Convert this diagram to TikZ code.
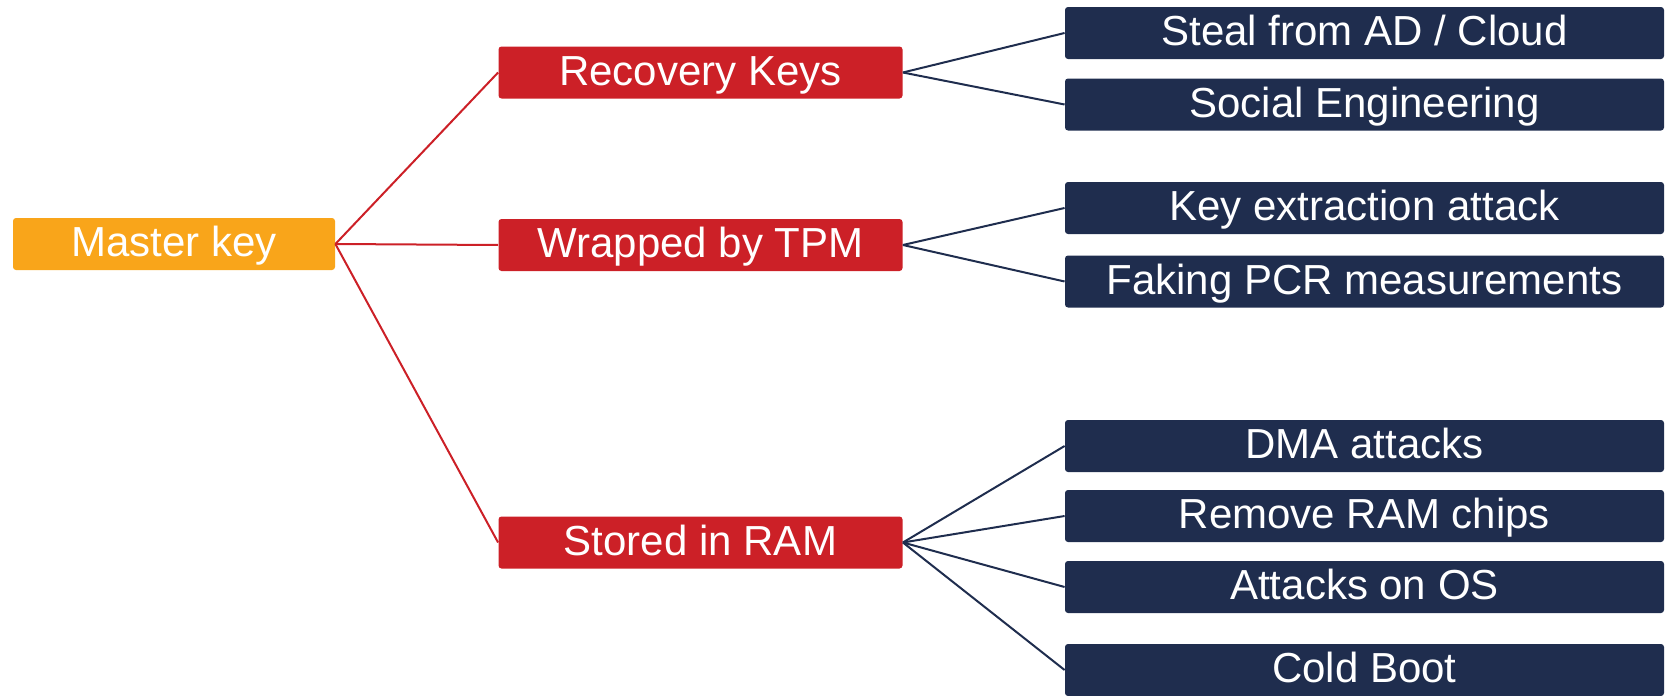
\documentclass[tikz,border=0pt]{standalone}
\usepackage{fontspec}
\setmainfont{Liberation Sans}
\usetikzlibrary{positioning}
\definecolor{keyorange}{HTML}{F9A51A}
\definecolor{attackred}{HTML}{CC2027}
\definecolor{attacknavy}{HTML}{1F2D4E}

\begin{document}
\begin{tikzpicture}[x=0.5pt, y=-0.5pt,
    box/.style={rounded corners=1.5pt, text=white, font=\fontsize{21}{24}\selectfont,
      minimum height=26pt, inner sep=0pt, text height=15.5pt, text depth=3pt},
    rootbox/.style={box, fill=keyorange, minimum width=161pt},
    midbox/.style={box, fill=attackred, minimum width=202pt},
    leafbox/.style={box, fill=attacknavy, minimum width=299.5pt},
    redline/.style={draw=attackred, line width=1pt},
    navyline/.style={draw=attacknavy, line width=1pt}]
  \useasboundingbox (0,0) rectangle (1667,696);

  % root and the three ways to the key
  \node[rootbox] (master) at (174,244) {Master key};
  \node[midbox] (recovery) at (700.5,72.5) {Recovery Keys};
  \node[midbox] (tpm) at (700.5,245) {Wrapped by TPM};
  \node[midbox] (ram) at (700.5,542.5) {Stored in RAM};

  % attacks
  \node[leafbox] (steal) at (1364.5,33) {Steal from AD / Cloud};
  \node[leafbox] (social) at (1364.5,104.5) {Social Engineering};
  \node[leafbox] (extract) at (1364.5,208) {Key extraction attack};
  \node[leafbox] (pcr) at (1364.5,281.5) {Faking PCR measurements};
  \node[leafbox] (dma) at (1364.5,446) {DMA attacks};
  \node[leafbox] (chips) at (1364.5,516) {Remove RAM chips};
  \node[leafbox] (os) at (1364.5,587) {Attacks on OS};
  \node[leafbox] (cold) at (1364.5,670) {Cold Boot};

  \foreach \m in {recovery, tpm, ram} { \draw[redline] (master.east) -- (\m.west); }
  \foreach \a in {steal, social} { \draw[navyline] (recovery.east) -- (\a.west); }
  \foreach \a in {extract, pcr} { \draw[navyline] (tpm.east) -- (\a.west); }
  \foreach \a in {dma, chips, os, cold} { \draw[navyline] (ram.east) -- (\a.west); }
\end{tikzpicture}
\end{document}
